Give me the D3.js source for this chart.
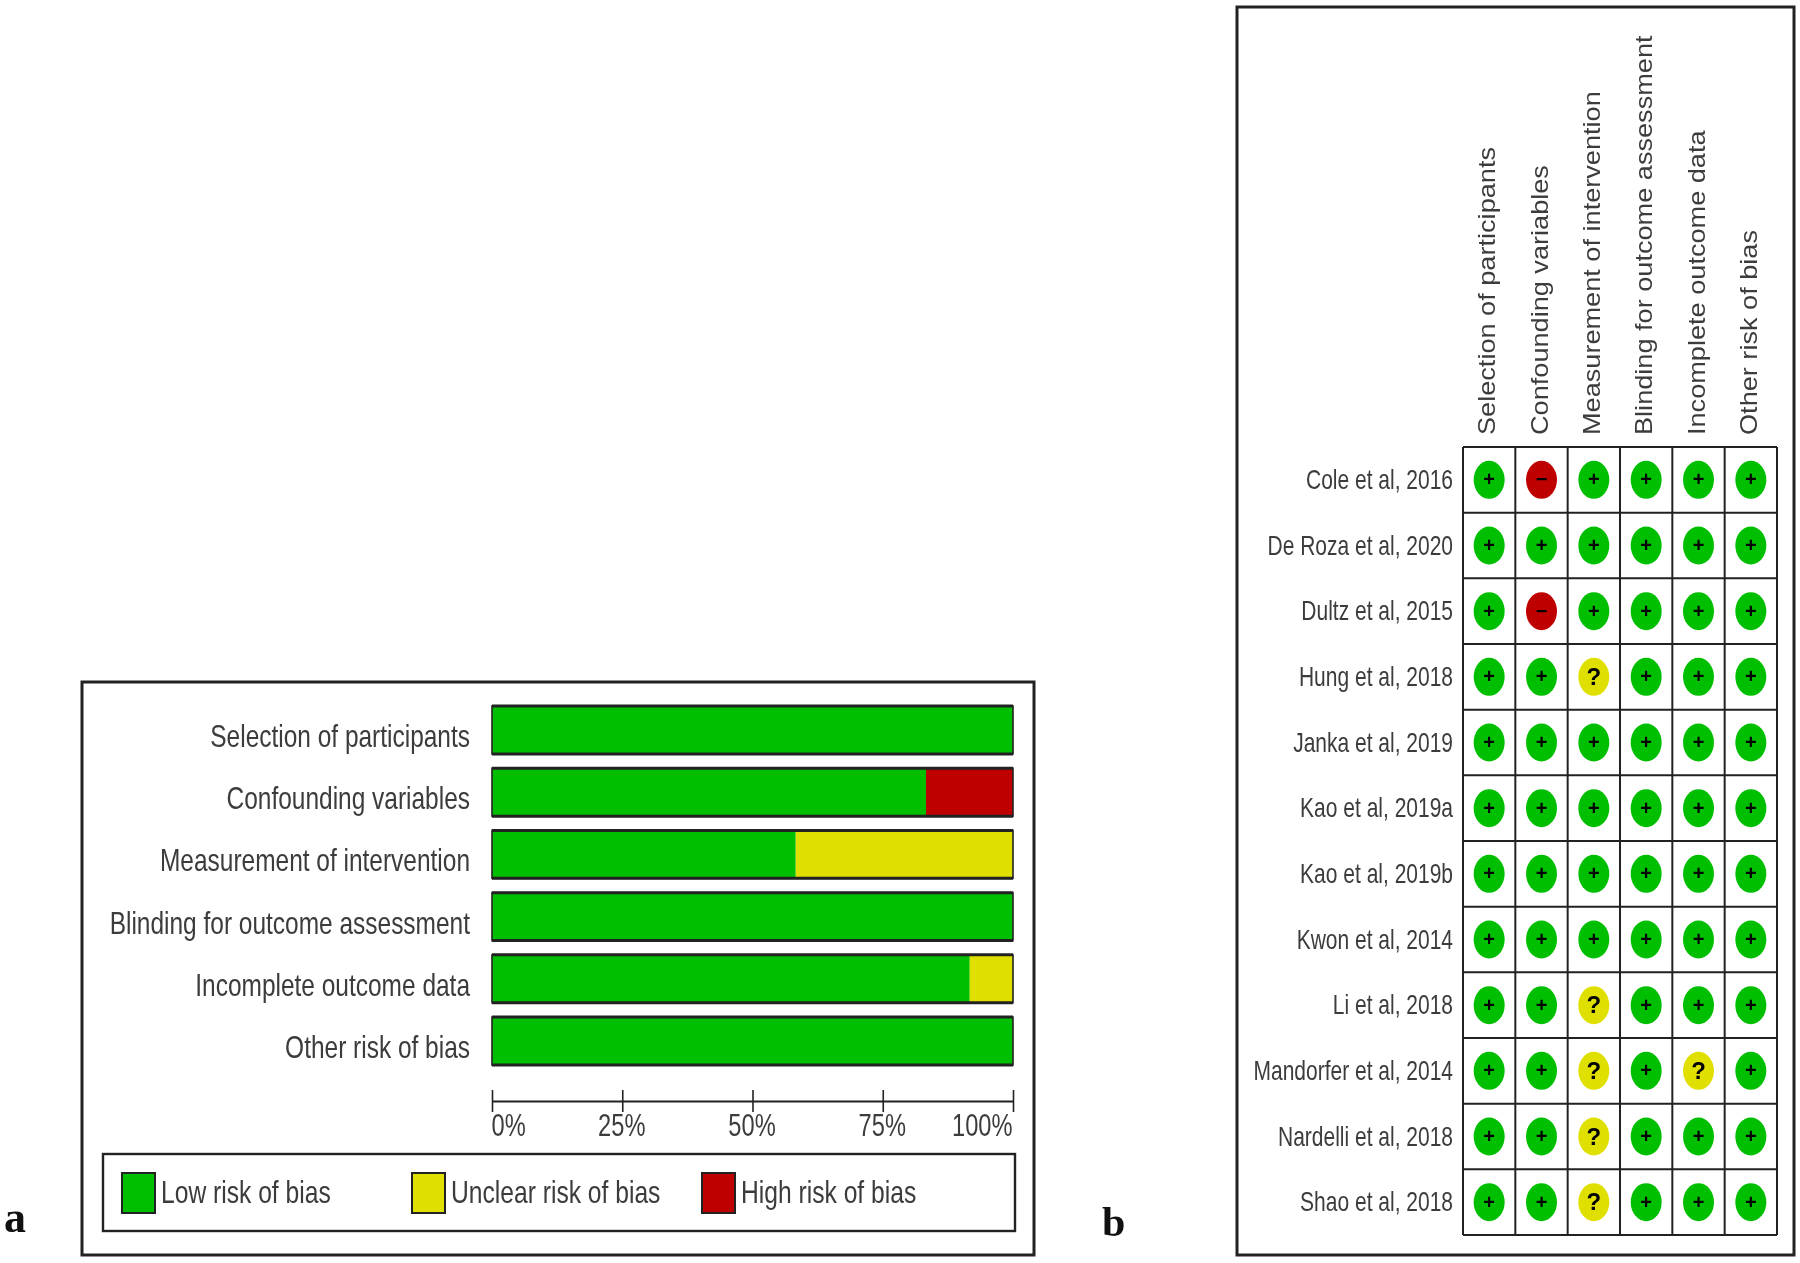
<!DOCTYPE html>
<html>
<head>
<meta charset="utf-8">
<title>Risk of bias</title>
<script src="https://cdn.jsdelivr.net/npm/d3@7"></script>
<style>
    html, body { margin: 0; background: #fff; }
    svg { display: block; filter: blur(0.6px); }
    text { font-family: "Liberation Sans", Arial, sans-serif; fill: #3c3c3c; }
    .letter { font-family: "Liberation Serif", serif; font-weight: bold; fill: #111; }
    .symbol { font-weight: bold; fill: #000; text-anchor: middle; }
</style>
</head>
<body>
<div id="chart"></div>
<script>
// Risk of bias domains
const domains = [
    'Selection of participants',
    'Confounding variables',
    'Measurement of intervention',
    'Blinding for outcome assessment',
    'Incomplete outcome data',
    'Other risk of bias'
];

// Share of studies per judgement, one value per domain
const lowRisk = [100, 83.3, 58.3, 100, 91.7, 100];
const unclearRisk = [0, 0, 41.7, 0, 8.3, 0];
const highRisk = [0, 16.7, 0, 0, 0, 0];

const axisTicks = [0, 25, 50, 75, 100];
const legendLabels = ['Low risk of bias', 'Unclear risk of bias', 'High risk of bias'];

const studies = [
    'Cole et al, 2016', 'De Roza et al, 2020', 'Dultz et al, 2015', 'Hung et al, 2018',
    'Janka et al, 2019', 'Kao et al, 2019a', 'Kao et al, 2019b', 'Kwon et al, 2014',
    'Li et al, 2018', 'Mandorfer et al, 2014', 'Nardelli et al, 2018', 'Shao et al, 2018'
];

// One string per study, one character per domain
const judgements = [
    '+-++++', '++++++', '+-++++', '++?+++',
    '++++++', '++++++', '++++++', '++++++',
    '++?+++', '++?+?+', '++?+++', '++?+++'
];

const colorMap = { low: '#00bf00', unclear: '#e0e000', high: '#bf0000' };
const symbolColor = { '+': colorMap.low, '?': colorMap.unclear, '-': colorMap.high };
const lineColor = '#222';

const width = 1800;
const height = 1263;

const svg = d3.select('#chart').append('svg')
    .attr('width', width)
    .attr('height', height)
    .attr('viewBox', [0, 0, width, height]);

// Text squeezed or stretched along its own direction, like the scaled original
function squeezed(sel, x, y, sx, rotate) {
    sel.attr('transform', `translate(${x},${y})${rotate ? ` rotate(${rotate})` : ''} scale(${sx},1)`);
}

function frame(x, y, w, h, strokeWidth) {
    svg.append('rect')
        .attr('x', x).attr('y', y)
        .attr('width', w).attr('height', h)
        .attr('fill', 'none')
        .attr('stroke', lineColor)
        .attr('stroke-width', strokeWidth);
}

// ---- Panel a: stacked summary bars ----
frame(82, 682, 952, 573, 3);

const xBar = d3.scaleLinear().domain([0, 100]).range([492, 1013]);
const yBar = d3.scaleBand().domain(domains).range([706, 1065]).paddingInner(0.23);

const barData = domains.map((d, i) => ({
    domain: d,
    low: lowRisk[i],
    unclear: unclearRisk[i],
    high: highRisk[i]
}));
const stacked = d3.stack().keys(['low', 'unclear', 'high'])(barData);

svg.append('g')
    .selectAll('g')
    .data(stacked)
    .join('g')
    .attr('fill', d => colorMap[d.key])
    .selectAll('rect')
    .data(d => d)
    .join('rect')
    .attr('x', d => xBar(d[0]))
    .attr('y', d => yBar(d.data.domain))
    .attr('width', d => xBar(d[1]) - xBar(d[0]))
    .attr('height', yBar.bandwidth());

// Thin outline, heavier along the top and bottom of each bar
const barFrame = svg.append('g').attr('stroke', lineColor);

barFrame.selectAll('rect')
    .data(domains)
    .join('rect')
    .attr('x', xBar(0))
    .attr('y', d => yBar(d))
    .attr('width', xBar(100) - xBar(0))
    .attr('height', yBar.bandwidth())
    .attr('fill', 'none')
    .attr('stroke-width', 1.6);

barFrame.selectAll('line')
    .data(domains.flatMap(d => [yBar(d), yBar(d) + yBar.bandwidth()]))
    .join('line')
    .attr('x1', xBar(0))
    .attr('x2', xBar(100))
    .attr('y1', d => d)
    .attr('y2', d => d)
    .attr('stroke-width', 3);

svg.append('g')
    .selectAll('text')
    .data(domains)
    .join('text')
    .attr('font-size', 32)
    .attr('text-anchor', 'end')
    .text(d => d)
    .each(function(d) {
        squeezed(d3.select(this), 470, yBar(d) + yBar.bandwidth() / 2 + 17, 0.765);
    });

// Axis
const axis = d3.axisBottom(xBar)
    .tickValues(axisTicks)
    .tickFormat(d => d + '%')
    .tickSizeOuter(0);
const axisG = svg.append('g')
    .attr('transform', 'translate(0,1101)')
    .call(axis);
axisG.select('.domain').attr('stroke', lineColor).attr('stroke-width', 2);
axisG.selectAll('.tick line')
    .attr('stroke', lineColor)
    .attr('stroke-width', 1.6)
    .attr('y1', -11)
    .attr('y2', 11);
axisG.selectAll('.tick text')
    .attr('font-size', 32)
    .attr('y', 0)
    .attr('dy', 0)
    .attr('text-anchor', d => d === 0 ? 'start' : d === 100 ? 'end' : 'middle')
    .attr('transform', 'translate(-1,35) scale(0.74,1)');

// Legend
frame(103, 1154, 912, 77, 2.4);
const legendX = d3.scalePoint().domain(legendLabels).range([122, 702]);
const legendColors = [colorMap.low, colorMap.unclear, colorMap.high];

const legend = svg.append('g')
    .selectAll('g')
    .data(legendLabels)
    .join('g')
    .attr('transform', d => `translate(${legendX(d)},1173)`);

legend.append('rect')
    .attr('width', 33)
    .attr('height', 40)
    .attr('fill', (d, i) => legendColors[i])
    .attr('stroke', lineColor)
    .attr('stroke-width', 2);

legend.append('text')
    .attr('font-size', 32)
    .text(d => d)
    .attr('transform', 'translate(39,30) scale(0.77,1)');

svg.append('text')
    .attr('class', 'letter')
    .attr('x', 4)
    .attr('y', 1232)
    .attr('font-size', 44)
    .text('a');

// ---- Panel b: judgement per study and domain ----
frame(1237, 7, 557, 1248, 3);

const xCell = d3.scaleBand().domain(domains).range([1463, 1777]);
const yCell = d3.scaleBand().domain(studies).range([447, 1235]);

const grid = svg.append('g')
    .attr('stroke', lineColor)
    .attr('stroke-width', 2);

grid.selectAll('.v')
    .data(domains.concat(null))
    .join('line')
    .attr('class', 'v')
    .attr('x1', d => d ? xCell(d) : xCell.range()[1])
    .attr('x2', d => d ? xCell(d) : xCell.range()[1])
    .attr('y1', yCell.range()[0])
    .attr('y2', yCell.range()[1]);

grid.selectAll('.h')
    .data(studies.concat(null))
    .join('line')
    .attr('class', 'h')
    .attr('y1', d => d ? yCell(d) : yCell.range()[1])
    .attr('y2', d => d ? yCell(d) : yCell.range()[1])
    .attr('x1', xCell.range()[0])
    .attr('x2', xCell.range()[1]);

// Column headers
svg.append('g')
    .selectAll('text')
    .data(domains)
    .join('text')
    .attr('font-size', 23)
    .text(d => d)
    .each(function(d) {
        squeezed(d3.select(this), xCell(d) + xCell.bandwidth() / 2 + 6, 435, 1.18, -90);
    });

// Row headers
svg.append('g')
    .selectAll('text')
    .data(studies)
    .join('text')
    .attr('font-size', 28)
    .attr('text-anchor', 'end')
    .text(d => d)
    .each(function(d) {
        squeezed(d3.select(this), 1453, yCell(d) + yCell.bandwidth() / 2 + 9, 0.75);
    });

// One ellipse and symbol per cell
const cells = studies.flatMap((study, r) =>
    domains.map((domain, c) => ({ study, domain, mark: judgements[r][c] })));

const cell = svg.append('g')
    .selectAll('g')
    .data(cells)
    .join('g')
    .attr('transform', d => `translate(${xCell(d.domain) + xCell.bandwidth() / 2},${yCell(d.study) + yCell.bandwidth() / 2})`);

cell.append('ellipse')
    .attr('rx', 15.5)
    .attr('ry', 19)
    .attr('fill', d => symbolColor[d.mark]);

cell.append('text')
    .attr('class', 'symbol')
    .attr('font-size', d => d.mark === '?' ? 24 : 20)
    .attr('y', d => d.mark === '?' ? 8 : 6.5)
    .text(d => d.mark === '-' ? '\u2212' : d.mark);

svg.append('text')
    .attr('class', 'letter')
    .attr('x', 1102)
    .attr('y', 1236)
    .attr('font-size', 42)
    .text('b');
</script>
</body>
</html>
